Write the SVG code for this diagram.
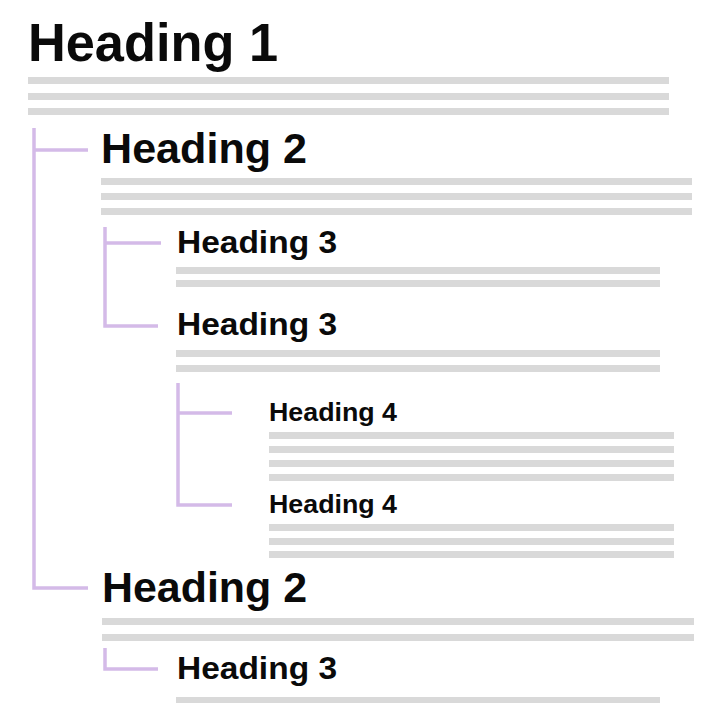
<svg xmlns="http://www.w3.org/2000/svg" width="720" height="720" viewBox="0 0 720 720">
<style>
.h{font-family:"Liberation Sans",Arial,sans-serif;font-weight:bold;fill:#0a0a0a}
.bar{fill:#d9d9d9}
.con{fill:none;stroke:#d4bae8;stroke-width:3.5}
</style>
<rect width="720" height="720" fill="#ffffff"/>
<g id="connectors">
<path class="con" d="M34 128 V588 H88 M34 150 H88"/>
<path class="con" d="M105 227 V326 H158 M105 243 H161"/>
<path class="con" d="M178 383 V505 H232 M178 413 H232"/>
<path class="con" d="M105 648 V669 H158"/>
</g>
<g id="h1">
<text class="h" x="28" y="61" font-size="53" textLength="250" lengthAdjust="spacingAndGlyphs">Heading 1</text>
<rect class="bar" x="28" y="77" width="641" height="7"/>
<rect class="bar" x="28" y="93" width="641" height="7"/>
<rect class="bar" x="28" y="108" width="641" height="7"/>
</g>
<g id="h2a">
<text class="h" x="101" y="163" font-size="43" textLength="206" lengthAdjust="spacingAndGlyphs">Heading 2</text>
<rect class="bar" x="101" y="178" width="591" height="7"/>
<rect class="bar" x="101" y="193" width="591" height="7"/>
<rect class="bar" x="101" y="208" width="591" height="7"/>
</g>
<g id="h3a">
<text class="h" x="177" y="253" font-size="32" textLength="160" lengthAdjust="spacingAndGlyphs">Heading 3</text>
<rect class="bar" x="176" y="267" width="484" height="7"/>
<rect class="bar" x="176" y="280" width="484" height="7"/>
</g>
<g id="h3b">
<text class="h" x="177" y="335" font-size="32" textLength="160" lengthAdjust="spacingAndGlyphs">Heading 3</text>
<rect class="bar" x="176" y="350" width="484" height="7"/>
<rect class="bar" x="176" y="365" width="484" height="7"/>
</g>
<g id="h4a">
<text class="h" x="269" y="421" font-size="26" textLength="128" lengthAdjust="spacingAndGlyphs">Heading 4</text>
<rect class="bar" x="269" y="432" width="405" height="7"/>
<rect class="bar" x="269" y="446" width="405" height="7"/>
<rect class="bar" x="269" y="460" width="405" height="7"/>
<rect class="bar" x="269" y="474" width="405" height="7"/>
</g>
<g id="h4b">
<text class="h" x="269" y="513" font-size="26" textLength="128" lengthAdjust="spacingAndGlyphs">Heading 4</text>
<rect class="bar" x="269" y="524" width="405" height="7"/>
<rect class="bar" x="269" y="538" width="405" height="7"/>
<rect class="bar" x="269" y="551" width="405" height="7"/>
</g>
<g id="h2b">
<text class="h" x="102" y="602" font-size="43" textLength="205" lengthAdjust="spacingAndGlyphs">Heading 2</text>
<rect class="bar" x="102" y="618" width="592" height="7"/>
<rect class="bar" x="102" y="634" width="592" height="7"/>
</g>
<g id="h3c">
<text class="h" x="177" y="679" font-size="32" textLength="160" lengthAdjust="spacingAndGlyphs">Heading 3</text>
<rect class="bar" x="176" y="697" width="484" height="6"/>
</g>
</svg>
